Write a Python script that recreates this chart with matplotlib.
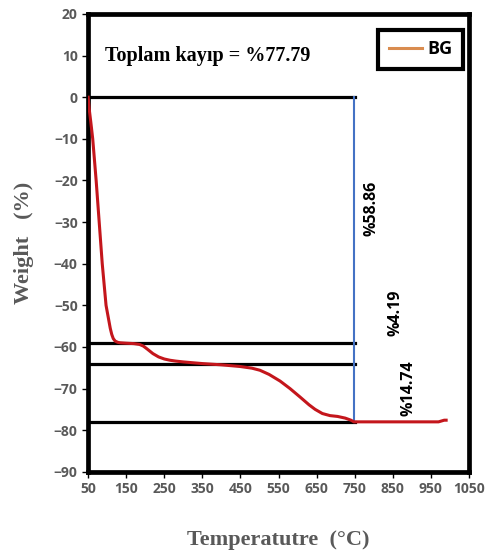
import numpy as np
import matplotlib
matplotlib.use('Agg')
import matplotlib.pyplot as plt
from matplotlib.lines import Line2D

# TGA curve
temp = [50, 53, 57, 62, 71, 79, 87, 97, 103, 108, 112, 116, 121, 128, 134, 150, 170, 185, 195,
        205, 220, 235, 250, 265, 280, 300, 350, 400, 449, 480, 501, 525, 554, 580, 606, 630,
        646, 665, 685, 705, 725, 740, 748, 800, 900, 970, 985, 990]
weight = [0, -3, -6, -10, -20, -30, -40, -50, -53, -55.5, -57, -58, -58.6, -58.9, -59, -59.1,
          -59.2, -59.4, -59.8, -60.5, -61.6, -62.4, -62.9, -63.2, -63.4, -63.6, -64, -64.3,
          -64.7, -65.1, -65.6, -66.6, -68.2, -70, -72, -73.9, -75, -76, -76.5, -76.7, -77.1,
          -77.6, -78, -78, -78, -78, -77.6, -77.6]

steps = [0, -59, -64, -78]
step_x_end = 750
blue_x = 748
loss_labels = ['%58.86', '%4.19', '%14.74']
loss_pos = [(795, -26.8), (856, -51.7), (890, -69.9)]
total_text = 'Toplam kayıp = %77.79'

xticks = list(range(50, 1051, 100))
yticks = list(range(-90, 21, 10))

fig = plt.figure(figsize=(4.87, 5.59), dpi=100)
ax = fig.add_axes([0.181, 0.156, 0.782, 0.819])

for y in steps:
    ax.plot([50, step_x_end], [y, y], color='black', lw=2.3, zorder=2)
ax.plot([blue_x, blue_x], [steps[0], steps[-1]], color='#4472c4', lw=1.5, zorder=2)
ax.plot(temp, weight, color='#c4161c', lw=2.2, zorder=3)

ax.set_xlim(50, 1050)
ax.set_ylim(-90, 20)
ax.set_xticks(xticks)
ax.set_yticks(yticks)
for s in ax.spines.values():
    s.set_linewidth(3.4)
ax.tick_params(direction='out', length=4, width=1, colors='black', labelcolor='#595959', labelsize=10)
for lab in ax.get_xticklabels() + ax.get_yticklabels():
    lab.set_fontweight('bold')
    lab.set_family('Open Sans')

ax.text(95, 10, total_text, fontsize=14.5, fontweight='bold', family='Liberation Serif',
        va='center', ha='left')
for t, (x, y) in zip(loss_labels, loss_pos):
    ax.text(x, y, t, rotation=90, fontsize=11.5, family='Open Sans', fontweight='bold',
            ha='center', va='center')

handle = Line2D([], [], color='#d98c4f', lw=2.2)
leg = ax.legend([handle], ['BG'], loc='upper right', bbox_to_anchor=(0.984, 0.966),
                frameon=True, fancybox=False, handlelength=1.8, handletextpad=0.3,
                prop={'family': 'Open Sans', 'weight': 'bold', 'size': 13},
                borderpad=0.6, borderaxespad=0)
leg.get_frame().set_edgecolor('black')
leg.get_frame().set_linewidth(3)
leg.get_frame().set_alpha(1)

ax.set_xlabel('Temperatutre  (°C)', fontsize=16, fontweight='bold', family='Liberation Serif',
              color='#595959', labelpad=24)
ax.set_ylabel('Weight   (%)', fontsize=16, fontweight='bold', family='Liberation Serif',
              color='#595959', labelpad=14)

fig.savefig('out.png', dpi=100)
